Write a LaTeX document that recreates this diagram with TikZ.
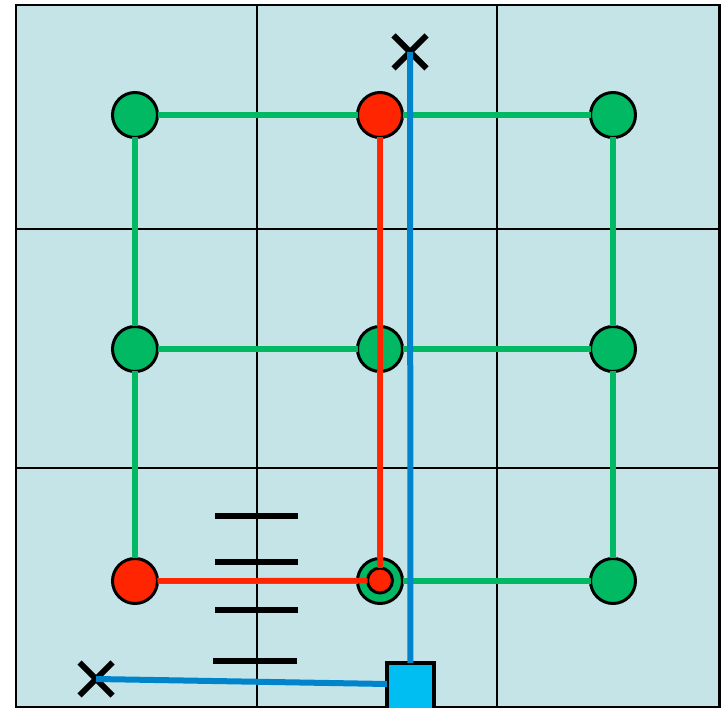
\documentclass[tikz,border=0pt]{standalone}
\usetikzlibrary{shapes.misc}
\definecolor{bgc}{HTML}{C5E4E7}
\definecolor{grc}{HTML}{00B962}
\definecolor{rdc}{HTML}{FF2500}
\definecolor{blc}{HTML}{0085CC}
\definecolor{sqc}{HTML}{00BEF2}
\begin{document}
\begin{tikzpicture}[x=1pt,y=-1pt,
  dot/.style={circle,draw=black,line width=3pt,minimum size=45pt,inner sep=0pt,outer sep=0pt},
  gdot/.style={dot,fill=grc},
  rdot/.style={dot,fill=rdc},
  sdot/.style={circle,draw=black,line width=3pt,minimum size=25pt,inner sep=0pt,outer sep=0pt,fill=rdc},
  gline/.style={draw=grc,line width=5.5pt},
  rline/.style={draw=rdc,line width=5.5pt},
  bline/.style={draw=blc,line width=6pt},
  gridline/.style={draw=black,line width=1.6pt},
  xmark/.style={cross out,draw=black,line width=6pt,minimum size=33pt,inner sep=0pt,outer sep=0pt},
  sqbox/.style={rectangle,draw=black,line width=4.5pt,fill=sqc,minimum size=47pt,inner sep=0pt,outer sep=0pt},
  dashline/.style={draw=black,line width=6pt}
]
\useasboundingbox (0,0) rectangle (721,708);
% background and grid
\fill[bgc] (16,5) rectangle (719.5,707);
\draw[gridline] (257,5) -- (257,707);
\draw[gridline] (497,5) -- (497,707);
\draw[gridline] (16,229) -- (719.5,229);
\draw[gridline] (16,468) -- (719.5,468);
\draw[draw=black,line width=2.5pt] (16,5) rectangle (719.5,707);

% nodes
\node[gdot] (a1) at (135,115) {};
\node[rdot] (b1) at (380,115) {};
\node[gdot] (c1) at (613,115) {};
\node[gdot] (a2) at (135,349) {};
\node[gdot] (b2) at (380,349) {};
\node[gdot] (c2) at (613,349) {};
\node[rdot] (a3) at (135,581) {};
\node[gdot] (b3) at (380,581) {};
\node[gdot] (c3) at (613,581) {};
\node[sdot] (s3) at (380,580.5) {};

% green grid of connections
\draw[gline] (a1) -- (b1);
\draw[gline] (b1) -- (c1);
\draw[gline] (a2) -- (b2);
\draw[gline] (b2) -- (c2);
\draw[gline] (a3) -- (b3);
\draw[gline] (b3) -- (c3);
\draw[gline] (a1) -- (a2);
\draw[gline] (a2) -- (a3);
\draw[gline] (b1) -- (b2);
\draw[gline] (b2) -- (b3);
\draw[gline] (c1) -- (c2);
\draw[gline] (c2) -- (c3);

% red path
\draw[rline] (b1) -- (s3) -- (a3);

% crosses and box
\node[xmark] (xt) at (410,52) {};
\node[xmark] (xb) at (96,679) {};
\node[sqbox] (sq) at (410.5,686.5) {};
\draw[bline] (xt.center) -- (sq);
\draw[bline] (sq.west |- 0,684) -- (xb.center);

% dashes
\draw[dashline] (215,516) -- (298,516);
\draw[dashline] (215,562) -- (298,562);
\draw[dashline] (215,610) -- (298,610);
\draw[dashline] (213,661) -- (297,661);
\end{tikzpicture}
\end{document}
